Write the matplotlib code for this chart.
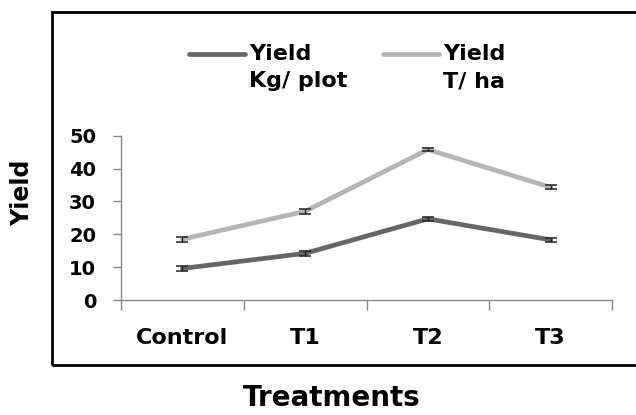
import matplotlib
matplotlib.use("Agg")
import matplotlib.pyplot as plt
from matplotlib.patches import Rectangle
from matplotlib.legend_handler import HandlerLine2D

treatments = ["Control", "T1", "T2", "T3"]
yield_kg_plot = [9.6, 14.2, 24.7, 18.3]
yield_t_ha = [18.5, 27.0, 45.8, 34.3]
err_kg_plot = [0.8, 0.8, 0.6, 0.5]
err_t_ha = [0.8, 0.8, 0.6, 0.6]
y_ticks = [0, 10, 20, 30, 40, 50]

plt.rcParams['font.family'] = 'DejaVu Sans'
plt.rcParams['font.weight'] = 'bold'

fig = plt.figure(figsize=(6.36, 4.15), dpi=100)
ax = fig.add_axes([0.1903, 0.2771, 0.772, 0.3959])

# outer frame like the original chart area
fig.patches.append(Rectangle((0.0818, 0.1205), 0.95, 0.8505, transform=fig.transFigure,
                             fill=False, edgecolor='black', linewidth=2, clip_on=False))

x = list(range(len(treatments)))
l1, = ax.plot(x, yield_kg_plot, color='#666666', lw=3.4, solid_capstyle='round', zorder=2)
l2, = ax.plot(x, yield_t_ha, color='#b5b5b5', lw=3.4, solid_capstyle='round', zorder=2)
ax.errorbar(x, yield_kg_plot, yerr=err_kg_plot, fmt='none', ecolor='#222222',
            elinewidth=1, capsize=4.5, capthick=1.1, zorder=3)
ax.errorbar(x, yield_t_ha, yerr=err_t_ha, fmt='none', ecolor='#222222',
            elinewidth=1, capsize=4.5, capthick=1.1, zorder=3)

ax.set_xlim(-0.5, 3.5)
ax.set_ylim(0, 50)
ax.set_yticks(y_ticks)
ax.set_yticklabels([str(v) for v in y_ticks], fontsize=14, fontweight='bold')
ax.tick_params(axis='y', length=6, width=1, color='#888888', pad=12)

ax.set_xticks([-0.5, 0.5, 1.5, 2.5, 3.5])
ax.set_xticklabels([])
ax.tick_params(axis='x', which='major', length=7, width=1, color='#888888')
ax.set_xticks(x, minor=True)
ax.set_xticklabels(treatments, minor=True, fontsize=16, fontweight='bold')
ax.tick_params(axis='x', which='minor', length=0, pad=20)

for s in ['top', 'right']:
    ax.spines[s].set_visible(False)
for s in ['left', 'bottom']:
    ax.spines[s].set_color('#888888')
    ax.spines[s].set_linewidth(1)

fig.text(0.035, 0.535, "Yield", rotation=90, ha='center', va='center',
         fontsize=17, fontweight='bold')
fig.text(0.522, 0.04, "Treatments", ha='center', va='center',
         fontsize=20, fontweight='bold')


class TopLine(HandlerLine2D):
    # keep the legend line level with the first text line
    def create_artists(self, legend, orig_handle, xdescent, ydescent, width, height, fontsize, trans):
        arts = super().create_artists(legend, orig_handle, xdescent, ydescent, width, height, fontsize, trans)
        for a in arts:
            a.set_ydata([y + 0.64 * fontsize for y in a.get_ydata()])
        return arts


leg = fig.legend([l1, l2], ["Yield\nKg/ plot", "Yield\nT/ ha"], ncol=2, frameon=False,
                 loc='upper left', bbox_to_anchor=(0.266, 0.942),
                 prop={'weight': 'bold', 'size': 16}, handlelength=2.5, handletextpad=0.2,
                 columnspacing=1.6, handler_map={l1: TopLine(), l2: TopLine()})
for t in leg.get_texts():
    t.set_linespacing(1.45)

fig.savefig("out.png", dpi=100)
